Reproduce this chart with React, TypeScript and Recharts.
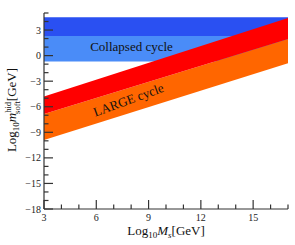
import React from 'react';
import { AreaChart, Area, XAxis, YAxis, Customized } from 'recharts';

// log10 Ms [GeV] at the two ends of the plot
const msPoints = [3, 17];

// band edges (log10 m_soft) at msPoints
const collapsedDarkLow = [2.3, 2.3];
const collapsedDarkHigh = [4.5, 4.5];
const collapsedLightLow = [-0.7, -0.7];
const largeRedLow = [-6.85, 1.95];
const largeRedHigh = [-4.8, 4.4];
const largeOrangeLow = [-9.9, -0.9];

const xTicks = [3, 4, 5, 6, 7, 8, 9, 10, 11, 12, 13, 14, 15, 16, 17];
const yTicks = [-18, -17, -16, -15, -14, -13, -12, -11, -10, -9, -8, -7, -6, -5, -4, -3, -2, -1, 0, 1, 2, 3, 4, 5];

const data = msPoints.map((ms, i) => ({
  ms,
  dark: [collapsedDarkLow[i], collapsedDarkHigh[i]],
  light: [collapsedLightLow[i], collapsedDarkLow[i]],
  red: [largeRedLow[i], largeRedHigh[i]],
  orange: [largeOrangeLow[i], largeRedLow[i]],
}));

const SERIF = "'Liberation Serif', 'Times New Roman', 'DejaVu Serif', serif";
const TICK = '#333';
const MAJOR = 9;
const MINOR = 4.5;
const W = 295;
const H = 245;
const MARGIN = { top: 13, right: 7, left: 0, bottom: 0 };

const isMajor = (v: number) => v % 3 === 0;
const fmt = (v: number) => (v < 0 ? '\u2212' + Math.abs(v) : String(v));

const BottomTick = ({ x, y, payload }: any) => {
  const major = isMajor(payload.value);
  return (
    <g>
      <line x1={x} y1={y} x2={x} y2={y - (major ? MAJOR : MINOR)} stroke={TICK} strokeWidth={1.2} />
      {major && (
        <text x={x} y={y + 12} textAnchor="middle" style={{ fontFamily: SERIF }} fontSize={10} fill="#222">
          {payload.value}
        </text>
      )}
    </g>
  );
};

const TopTick = ({ x, y, payload }: any) => {
  const major = isMajor(payload.value);
  return <line x1={x} y1={y} x2={x} y2={y + (major ? MAJOR : MINOR)} stroke={TICK} strokeWidth={1.2} />;
};

const LeftTick = ({ x, y, payload }: any) => {
  const major = isMajor(payload.value);
  return (
    <g>
      <line x1={x} y1={y} x2={x + (major ? MAJOR : MINOR)} y2={y} stroke={TICK} strokeWidth={1.2} />
      {major && (
        <text x={x - 3} y={y + 3.5} textAnchor="end" style={{ fontFamily: SERIF }} fontSize={10} fill="#222">
          {fmt(payload.value)}
        </text>
      )}
    </g>
  );
};

const RightTick = ({ x, y, payload }: any) => {
  const major = isMajor(payload.value);
  return <line x1={x} y1={y} x2={x - (major ? MAJOR : MINOR)} y2={y} stroke={TICK} strokeWidth={1.2} />;
};

const Annotations = () => (
  <g style={{ fontFamily: SERIF }} fill="#111">
    <text x={131.5} y={50.5} textAnchor="middle" fontSize={13}>
      Collapsed cycle
    </text>
    <text x={130} y={104} textAnchor="middle" fontSize={13} transform="rotate(-20 130 104)">
      LARGE cycle
    </text>
    <text x={16} y={110} textAnchor="middle" fontSize={13} transform="rotate(-90 16 110)">
      <tspan>Log</tspan>
      <tspan fontSize={9} dy={3}>10</tspan>
      <tspan fontStyle="italic" dy={-3}>m</tspan>
      <tspan fontSize={8.5} dy={-5}>hid</tspan>
      <tspan fontSize={8.5} dx={-12} dy={9}>soft</tspan>
      <tspan dy={-4}>[GeV]</tspan>
    </text>
    <text x={166} y={235} textAnchor="middle" fontSize={13}>
      <tspan>Log</tspan>
      <tspan fontSize={9} dy={3}>10</tspan>
      <tspan fontStyle="italic" dy={-3}>M</tspan>
      <tspan fontStyle="italic" fontSize={9} dy={3}>s</tspan>
      <tspan dy={-3}>[GeV]</tspan>
    </text>
  </g>
);

// axes shared by both layers; `visible` switches ticks/lines on for the top layer
const axes = (visible: boolean) => [
  <XAxis
    key="xb"
    dataKey="ms"
    type="number"
    domain={[3, 17]}
    ticks={xTicks}
    interval={0}
    height={36}
    tickSize={0}
    tickMargin={0}
    tickLine={false}
    tick={visible ? <BottomTick /> : false}
    axisLine={visible ? { stroke: TICK, strokeWidth: 1.2 } : false}
    allowDataOverflow
  />,
  <XAxis
    key="xt"
    xAxisId="top"
    orientation="top"
    type="number"
    domain={[3, 17]}
    ticks={xTicks}
    interval={0}
    height={0}
    tickSize={0}
    tickMargin={0}
    tickLine={false}
    tick={visible ? <TopTick /> : false}
    axisLine={visible ? { stroke: TICK, strokeWidth: 1.2 } : false}
    allowDataOverflow
  />,
  <YAxis
    key="yl"
    type="number"
    domain={[-18, 5]}
    ticks={yTicks}
    interval={0}
    width={44}
    tickSize={0}
    tickMargin={0}
    tickLine={false}
    tick={visible ? <LeftTick /> : false}
    axisLine={visible ? { stroke: TICK, strokeWidth: 1.2 } : false}
    allowDataOverflow
  />,
  <YAxis
    key="yr"
    yAxisId="right"
    orientation="right"
    type="number"
    domain={[-18, 5]}
    ticks={yTicks}
    interval={0}
    width={0}
    tickSize={0}
    tickMargin={0}
    tickLine={false}
    tick={visible ? <RightTick /> : false}
    axisLine={visible ? { stroke: TICK, strokeWidth: 1.2 } : false}
    allowDataOverflow
  />,
];

const App: React.FC = () => {
  return (
    <div style={{ position: 'absolute', left: 0, top: 0, width: W, height: H, background: '#fff' }}>
      <div style={{ position: 'absolute', left: 0, top: 0 }}>
        <AreaChart width={W} height={H} data={data} margin={MARGIN}>
          {axes(false)}
          <Area type="linear" dataKey="dark" stroke="none" fill="#2a50f2" fillOpacity={1} isAnimationActive={false} />
          <Area type="linear" dataKey="light" stroke="none" fill="#4a8cf8" fillOpacity={1} isAnimationActive={false} />
          <Area type="linear" dataKey="orange" stroke="none" fill="#ff6600" fillOpacity={1} isAnimationActive={false} />
          <Area type="linear" dataKey="red" stroke="none" fill="#ff0000" fillOpacity={1} isAnimationActive={false} />
        </AreaChart>
      </div>
      <div style={{ position: 'absolute', left: 0, top: 0 }}>
        <AreaChart width={W} height={H} data={data} margin={MARGIN}>
          {axes(true)}
          <Customized component={Annotations} />
        </AreaChart>
      </div>
    </div>
  );
};

export default App;
